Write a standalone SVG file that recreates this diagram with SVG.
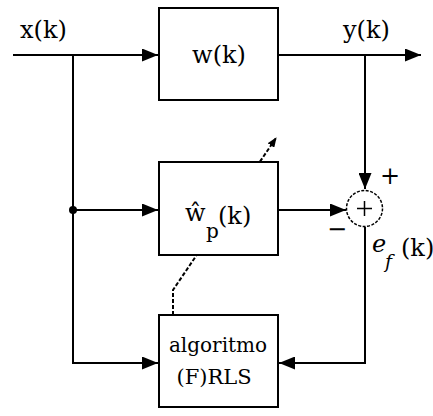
<svg xmlns="http://www.w3.org/2000/svg" width="433" height="416" viewBox="0 0 433 416">
<defs>
<marker id="ah" markerWidth="16" markerHeight="13" refX="16" refY="6.5" orient="auto" markerUnits="userSpaceOnUse" viewBox="0 0 16 13">
<path d="M0,0 L16,6.5 L0,13 z" fill="#000"/>
</marker>
<marker id="ah2" markerWidth="10" markerHeight="8" refX="9" refY="4" orient="auto" markerUnits="userSpaceOnUse" viewBox="0 0 10 8">
<path d="M0,0 L10,4 L0,8 z" fill="#000"/>
</marker>
</defs>
<style>
.box{fill:#fff;stroke:#000;stroke-width:2}
.ln{fill:none;stroke:#000;stroke-width:2}
.t{font-family:"DejaVu Serif","Liberation Serif",serif;font-size:24px;fill:#000}
.s{font-size:20px}
.it{font-style:italic}
</style>
<rect width="433" height="416" fill="#fff"/>
<g id="connectors">
<path class="ln" d="M13,55 L158,55" stroke-width="3" stroke="#333" marker-end="url(#ah)"/>
<path class="ln" d="M278,55 L421,55" marker-end="url(#ah)"/>
<path class="ln" d="M73,55 L73,363 L158,363" marker-end="url(#ah)"/>
<path class="ln" d="M73,210 L158,210" marker-end="url(#ah)"/>
<path class="ln" d="M365,55 L365,189" marker-end="url(#ah)"/>
<path class="ln" d="M278,210 L346,210" marker-end="url(#ah)"/>
<path class="ln" d="M365,227 L365,363 L279,363" marker-end="url(#ah)"/>
<path class="ln" d="M173,315 L173,290 L276,138" stroke-dasharray="4,2" stroke-width="1.5" marker-end="url(#ah2)"/>
<circle cx="73" cy="210" r="4" fill="#000"/>
</g>
<g id="w">
<rect class="box" x="159" y="8" width="119" height="92"/>
<text class="t" x="219" y="63" text-anchor="middle">w(k)</text>
</g>
<g id="wp">
<rect class="box" x="159" y="162" width="119" height="93"/>
<text class="t" x="185" y="221">ŵ</text>
<text class="t s" x="206" y="238">p</text>
<text class="t" x="218" y="224">(k)</text>
</g>
<g id="sum">
<circle cx="364.5" cy="208.5" r="18" fill="#fff" stroke="#000" stroke-width="1.5" stroke-dasharray="3,1.5"/>
<path d="M357,208.5 H372 M364.5,201 V216" stroke="#000" stroke-width="1.5"/>
</g>
<g id="rls">
<rect class="box" x="159" y="315" width="119" height="92"/>
<text class="t" x="218" y="352" text-anchor="middle" style="font-size:20px">algoritmo</text>
<text class="t" x="214" y="384" text-anchor="middle" style="font-size:21px">(F)RLS</text>
</g>
<g id="labels">
<text class="t" x="20" y="38">x(k)</text>
<text class="t" x="343" y="38">y(k)</text>
<text class="t" x="390" y="184" text-anchor="middle">+</text>
<text class="t" x="337" y="237" text-anchor="middle">−</text>
<text class="t it" x="372" y="252">e</text>
<text class="t it" x="385" y="268" style="font-size:19px">f</text>
<text class="t" x="401" y="256">(k)</text>
</g>
</svg>
